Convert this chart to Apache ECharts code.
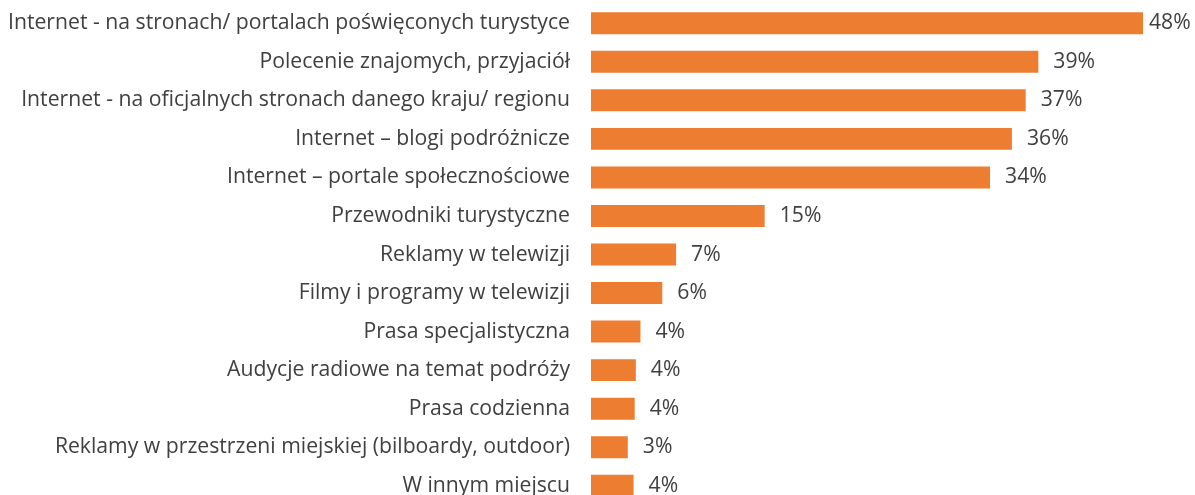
<!DOCTYPE html>
<html><head><meta charset="utf-8">
<script src="https://cdn.jsdelivr.net/npm/echarts@6/dist/echarts.min.js"></script>
<style>html,body{margin:0;padding:0;background:#fff;overflow:hidden}#c{width:1195px;height:530px}</style>
</head><body><div id="c"></div>
<script>
const categories = [
  "Internet - na stronach/ portalach poświęconych turystyce",
  "Polecenie znajomych, przyjaciół",
  "Internet - na oficjalnych stronach danego kraju/ regionu",
  "Internet – blogi podróżnicze",
  "Internet – portale społecznościowe",
  "Przewodniki turystyczne",
  "Reklamy w telewizji",
  "Filmy i programy w telewizji",
  "Prasa specjalistyczna",
  "Audycje radiowe na temat podróży",
  "Prasa codzienna",
  "Reklamy w przestrzeni miejskiej (bilboardy, outdoor)",
  "W innym miejscu"
];
const values = [48, 38.9, 37.8, 36.6, 34.7, 15.1, 7.4, 6.2, 4.3, 3.9, 3.8, 3.2, 3.7];
const valueLabels = ["48%", "39%", "37%", "36%", "34%", "15%", "7%", "6%", "4%", "4%", "4%", "3%", "4%"];

const chart = echarts.init(document.getElementById('c'));
const txt = '#404040';
chart.setOption({
  animation: false,
  grid: { left: 591, top: 4, width: 575, height: 501, containLabel: false },
  xAxis: { type: 'value', min: 0, max: 50, show: false },
  yAxis: {
    type: 'category', inverse: true, data: categories,
    axisLine: { show: false }, axisTick: { show: false },
    axisLabel: { color: txt, fontFamily: 'Open Sans', fontSize: 21.2, margin: 21 }
  },
  series: [{
    type: 'bar', barCategoryGap: '43%',
    itemStyle: { color: '#ED7D31' },
    data: values.map((v, i) => ({
      value: v,
      label: { distance: i === 0 ? 6 : 15 }
    })),
    label: {
      show: true, position: 'right', color: txt, fontFamily: 'Open Sans', fontSize: 21.2,
      formatter: p => valueLabels[p.dataIndex]
    }
  }]
});
</script></body></html>
